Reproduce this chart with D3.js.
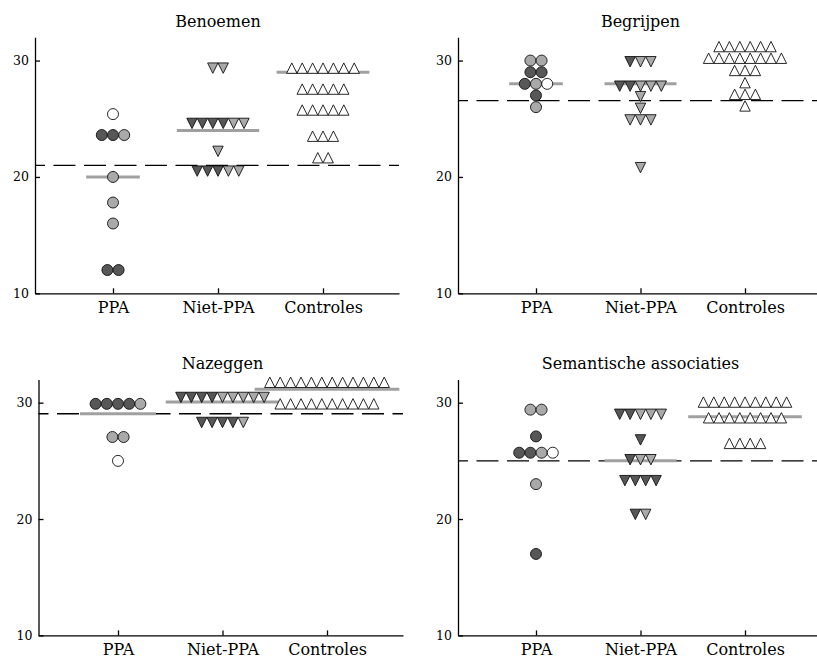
<!DOCTYPE html>
<html lang="nl">
<head>
<meta charset="UTF-8">
<title>Benoemen, Begrijpen, Nazeggen, Semantische associaties</title>
<script src="https://cdn.jsdelivr.net/npm/d3@7"></script>
<style>
  body { margin: 0; background: #fff; }
  svg { display: block; font-family: "DejaVu Serif", serif; }
  .domain, .tick line { stroke: #000; stroke-width: 1.3; }
  .tick text { fill: #000; font-family: "DejaVu Serif", serif; }
  .xax .tick text { font-size: 16px; }
  .yax .tick text { font-size: 12.5px; }
  .title { font-size: 16px; text-anchor: middle; }
  line.cut { stroke: #000; stroke-width: 1.3; stroke-dasharray: 22 8.5; }
  line.med { stroke: #a0a0a0; stroke-width: 3; }
  .mk { stroke: #111; stroke-width: 0.9; }
</style>
</head>
<body>
<svg width="817" height="661"></svg>
<script>
const groups = ["PPA", "Niet-PPA", "Controles"];
const titles = ["Benoemen", "Begrijpen", "Nazeggen", "Semantische associaties"];
const yTicks = [10, 20, 30];
const yDomain = [10, 32];

// one score per marker; shade per marker: d = donker, g = grijs, w = wit
const benoemenPPA = [25.4, 23.6, 23.6, 23.6, 20, 17.8, 16, 12, 12];
const benoemenPPAShade = ["w", "d", "d", "g", "g", "g", "g", "d", "d"];
const benoemenNiet = [29.35, 29.35, 24.6, 24.6, 24.6, 24.6, 24.6, 24.6, 22.2, 20.5, 20.5, 20.5, 20.5, 20.5];
const benoemenNietShade = ["g", "g", "d", "d", "d", "d", "g", "g", "g", "d", "d", "d", "g", "g"];
const benoemenCtrl = [29.35, 29.35, 29.35, 29.35, 29.35, 29.35, 29.35, 27.55, 27.55, 27.55, 27.55, 27.55,
  25.75, 25.75, 25.75, 25.75, 25.75, 23.5, 23.5, 23.5, 21.65, 21.65];

const begrijpenPPA = [30, 30, 29, 29, 28, 28, 28, 27, 26];
const begrijpenPPAShade = ["g", "g", "d", "d", "d", "g", "w", "d", "g"];
const begrijpenNiet = [29.9, 29.9, 29.9, 27.8, 27.8, 27.8, 27.8, 27.8, 26.9, 25.9, 24.9, 24.9, 24.9, 20.8];
const begrijpenNietShade = ["d", "g", "g", "d", "d", "g", "g", "g", "g", "g", "g", "g", "g", "g"];
const begrijpenCtrl = [31.2, 31.2, 31.2, 31.2, 31.2, 31.2, 30.2, 30.2, 30.2, 30.2, 30.2, 30.2, 30.2, 30.2,
  29.15, 29.15, 29.15, 28.1, 27.1, 27.1, 27.1, 26.1];

const nazeggenPPA = [29.9, 29.9, 29.9, 29.9, 29.9, 27.05, 27.05, 25];
const nazeggenPPAShade = ["d", "d", "d", "d", "g", "g", "g", "w"];
const nazeggenNiet = [30.45, 30.45, 30.45, 30.45, 30.45, 30.45, 30.45, 30.45, 30.45, 28.3, 28.3, 28.3, 28.3, 28.3];
const nazeggenNietShade = ["d", "d", "d", "d", "g", "g", "g", "g", "g", "d", "d", "d", "d", "g"];
const nazeggenCtrl = [31.75, 31.75, 31.75, 31.75, 31.75, 31.75, 31.75, 31.75, 31.75, 31.75, 31.75, 31.75,
  29.9, 29.9, 29.9, 29.9, 29.9, 29.9, 29.9, 29.9, 29.9, 29.9];

const semantischPPA = [29.4, 29.4, 27.1, 25.7, 25.7, 25.7, 25.7, 23, 17];
const semantischPPAShade = ["g", "g", "d", "d", "d", "g", "w", "g", "d"];
const semantischNiet = [29, 29, 29, 29, 29, 26.8, 25.1, 25.1, 25.1, 23.3, 23.3, 23.3, 23.3, 20.4, 20.4];
const semantischNietShade = ["d", "d", "g", "g", "g", "d", "d", "g", "g", "d", "d", "d", "d", "d", "g"];
const semantischCtrl = [30.05, 30.05, 30.05, 30.05, 30.05, 30.05, 30.05, 30.05, 30.05,
  28.7, 28.7, 28.7, 28.7, 28.7, 28.7, 28.7, 28.7, 26.5, 26.5, 26.5, 26.5];

// group medians (grey bars; null where the bar is hidden) and the dashed cut-off per test
const medians = [[20, 24, 29], [28, 28, null], [29.05, 30.05, 31.15], [null, 25, 28.8]];
const cutoffs = [21, 26.55, 29.05, 25];

const white = v => v.map(() => "w");
const panelData = [
  [[benoemenPPA, benoemenPPAShade], [benoemenNiet, benoemenNietShade], [benoemenCtrl, white(benoemenCtrl)]],
  [[begrijpenPPA, begrijpenPPAShade], [begrijpenNiet, begrijpenNietShade], [begrijpenCtrl, white(begrijpenCtrl)]],
  [[nazeggenPPA, nazeggenPPAShade], [nazeggenNiet, nazeggenNietShade], [nazeggenCtrl, white(nazeggenCtrl)]],
  [[semantischPPA, semantischPPAShade], [semantischNiet, semantischNietShade], [semantischCtrl, white(semantischCtrl)]]
];

const layout = [
  { x0: 35, x1: 399, c0: 113, step: 105, top: 37.3 },
  { x0: 458, x1: 817, c0: 536, step: 104.5, top: 37.3 },
  { x0: 38.5, x1: 403, c0: 118, step: 104.5, top: 379.4 },
  { x0: 458, x1: 817, c0: 536, step: 104.5, top: 379.4 }
];
const plotH = 256;
const fills = { d: "#575757", g: "#a9a9a9", w: "#ffffff" };
const circSpace = 11.2, triW = 10.4, triH = 10.4;

const svg = d3.select("svg");

layout.forEach((L, p) => {
  const span = L.x1 - L.x0;
  const x = d3.scalePoint()
    .domain(groups)
    .range([L.x0, L.x1])
    .padding((span / L.step - 2) / 2)
    .align((L.c0 - L.x0) / (span - 2 * L.step));
  const y = d3.scaleLinear().domain(yDomain).range([L.top + plotH, L.top]);

  const g = svg.append("g");

  g.append("text").attr("class", "title")
    .attr("x", x(groups[1])).attr("y", L.top - 10)
    .text(titles[p]);

  g.append("line").attr("class", "cut")
    .attr("x1", L.x0).attr("x2", L.x1)
    .attr("y1", y(cutoffs[p])).attr("y2", y(cutoffs[p]))
    .attr("stroke-dashoffset", 12);

  panelData[p].forEach(([vals, shades], gi) => {
    const marks = vals.map((v, i) => ({ v, s: shades[i] }));
    const rows = Array.from(d3.group(marks, d => d.v).values());
    const space = gi === 0 ? circSpace : triW;
    const widest = d3.max(rows, r => r.length);
    const cx = x(groups[gi]);

    const med = medians[p][gi];
    if (med != null) {
      g.append("line").attr("class", "med")
        .attr("x1", cx - (widest * space + 20) / 2)
        .attr("x2", cx + (widest * space + 20) / 2)
        .attr("y1", y(med)).attr("y2", y(med));
    }

    const pts = rows.flatMap(r => r.map((d, i) => ({
      ...d, px: cx + (i - (r.length - 1) / 2) * space, py: y(d.v)
    })));

    if (gi === 0) {
      g.selectAll(null).data(pts).join("circle").attr("class", "mk")
        .attr("cx", d => d.px).attr("cy", d => d.py).attr("r", 5.5)
        .attr("fill", d => fills[d.s]);
    } else {
      const dir = gi === 1 ? 1 : -1; // 1 = pointing down
      const tri = `M${-triW / 2},${-dir * triH / 2}L${triW / 2},${-dir * triH / 2}L0,${dir * triH / 2}Z`;
      g.selectAll(null).data(pts).join("path").attr("class", "mk")
        .attr("d", tri)
        .attr("transform", d => `translate(${d.px},${d.py})`)
        .attr("fill", d => fills[d.s]);
    }
  });

  g.append("g").attr("class", "yax")
    .attr("transform", `translate(${L.x0},0)`)
    .call(d3.axisLeft(y).tickValues(yTicks).tickSize(-5).tickSizeOuter(0).tickPadding(6));

  g.append("g").attr("class", "xax")
    .attr("transform", `translate(0,${L.top + plotH})`)
    .call(d3.axisBottom(x).tickSize(-5).tickSizeOuter(0).tickPadding(8));
});

svg.selectAll(".domain").attr("fill", "none");
</script>
</body>
</html>
